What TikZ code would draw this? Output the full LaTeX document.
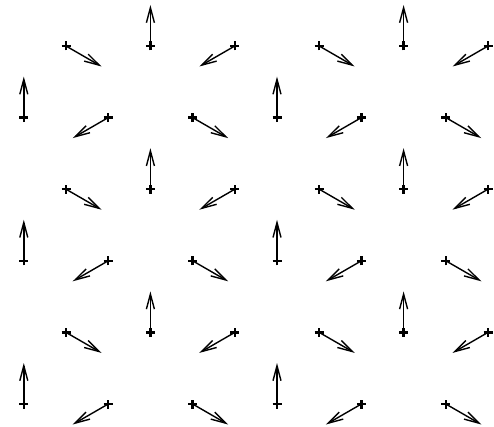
\documentclass[tikz,border=0pt]{standalone}
\usetikzlibrary{arrows.meta,calc}
\begin{document}
\begin{tikzpicture}[x=1pt,y=1pt,>={Straight Barb[length=15pt,width=8pt]},
      spin/.style={->,line width=1.4pt},
      site/.style={line width=2.3pt}]
      \useasboundingbox (0,0) rectangle (494,426);
      \foreach \j in {0,...,5} {
        \foreach \k in {0,...,5} {
          \pgfmathtruncatemacro{\type}{mod(\k+mod(\j,2),3)}
          \pgfmathsetmacro{\ang}{-30+120*\type}
          \pgfmathsetmacro{\px}{66+84.4*\k-42.2*mod(\j,2)}
          \pgfmathsetmacro{\py}{380-71.6*\j}
          \coordinate (s\j\k) at (\px,\py);
          \coordinate (t\j\k) at ($(s\j\k)+(\ang:41)$);
          \draw[spin] (s\j\k) -- (t\j\k);
          \draw[site] (s\j\k) +(-4.5,0) -- +(4.5,0) +(0,-4.5) -- +(0,4.5);
        }
      }
    \end{tikzpicture}
\end{document}
